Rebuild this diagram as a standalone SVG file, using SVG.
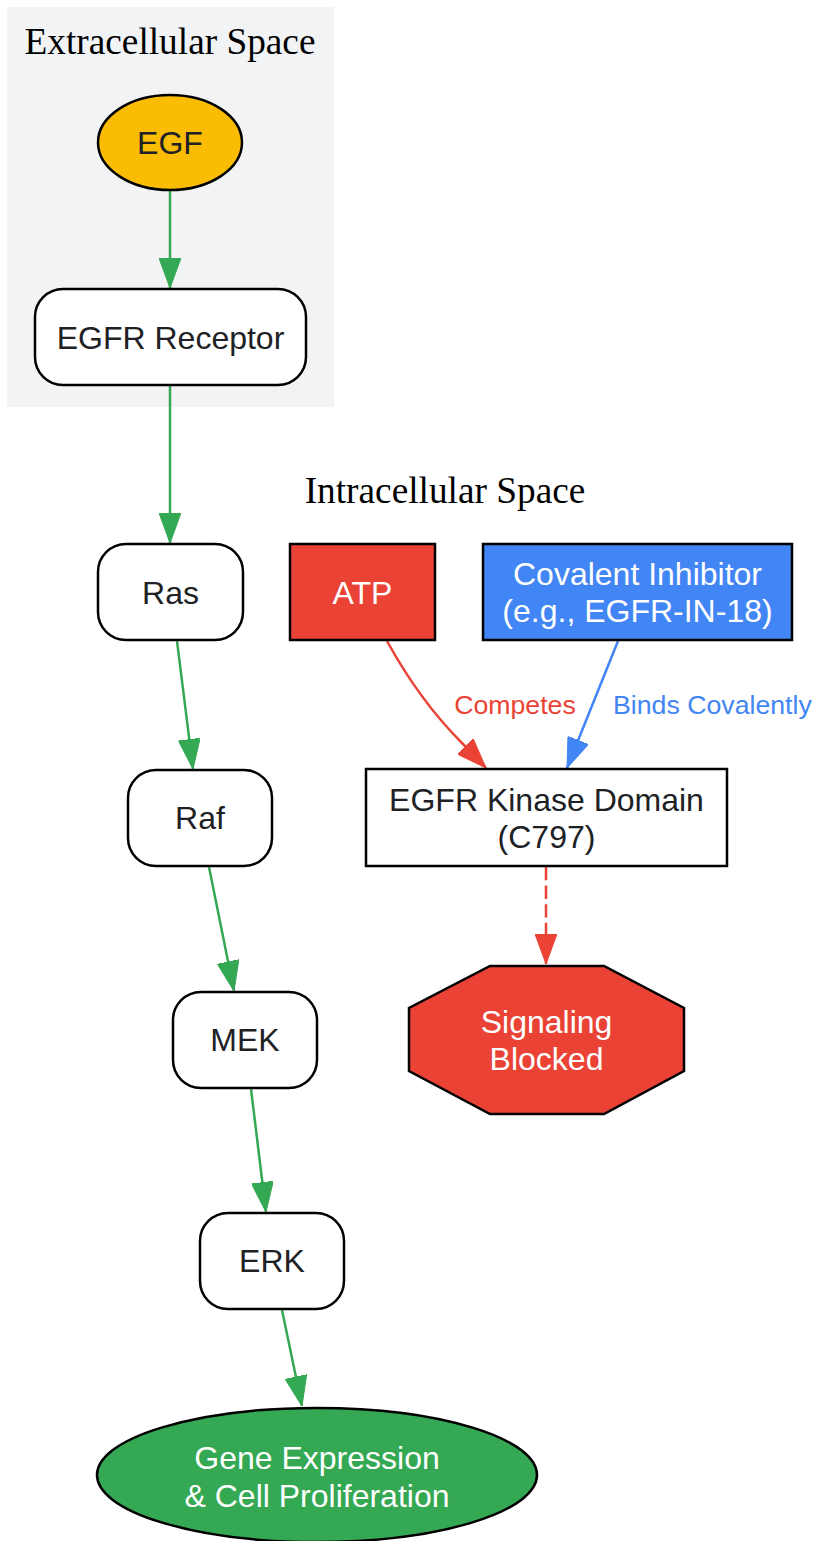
<svg xmlns="http://www.w3.org/2000/svg" width="813" height="1541" viewBox="0 0 813 1541">
<style>
.node{stroke:#000;stroke-width:2.5}
.lbl{font-family:"Liberation Sans",Arial,sans-serif;font-size:32px;text-anchor:middle;fill:#202124}
.wlbl{font-family:"Liberation Sans",Arial,sans-serif;font-size:32px;text-anchor:middle;fill:#ffffff}
.title{font-family:"Liberation Serif","Times New Roman",serif;font-size:37.3px;text-anchor:middle;fill:#000}
.elbl{font-family:"Liberation Sans",Arial,sans-serif;font-size:26.7px}
.g{stroke:#34a853;stroke-width:2.5;fill:none}
.r{stroke:#ea4335;stroke-width:2.5;fill:none}
.b{stroke:#4285f4;stroke-width:2.5;fill:none}
</style>
<defs>
<marker id="ag" markerUnits="userSpaceOnUse" viewBox="0 0 30 22" refX="30" refY="11" markerWidth="30" markerHeight="22" orient="auto"><path d="M0,0 L30,11 L0,22 Z" fill="#34a853" stroke="#34a853" stroke-width="1"/></marker>
<marker id="ar" markerUnits="userSpaceOnUse" viewBox="0 0 30 22" refX="30" refY="11" markerWidth="30" markerHeight="22" orient="auto"><path d="M0,0 L30,11 L0,22 Z" fill="#ea4335" stroke="#ea4335" stroke-width="1"/></marker>
<marker id="ab" markerUnits="userSpaceOnUse" viewBox="0 0 30 22" refX="30" refY="11" markerWidth="30" markerHeight="22" orient="auto"><path d="M0,0 L30,11 L0,22 Z" fill="#4285f4" stroke="#4285f4" stroke-width="1"/></marker>
</defs>
<rect width="813" height="1541" fill="#ffffff"/>
<g id="cluster_extra">
<rect x="7" y="7" width="327" height="400" fill="#f1f3f4"/>
<text class="title" x="170" y="54">Extracellular Space</text>
</g>
<g id="cluster_intra">
<text class="title" x="445" y="503">Intracellular Space</text>
</g>
<g id="connectors">
<path class="g" d="M170,190 L170,288" marker-end="url(#ag)"/>
<path class="g" d="M170,386 L170,543" marker-end="url(#ag)"/>
<path class="g" d="M177,641 L193,769" marker-end="url(#ag)"/>
<path class="g" d="M209,867 L234,991" marker-end="url(#ag)"/>
<path class="g" d="M251,1089 L266,1212" marker-end="url(#ag)"/>
<path class="g" d="M282,1310 L302,1406" marker-end="url(#ag)"/>
<path class="r" d="M387,641 C404,672 427,708 462,743 L486,768" marker-end="url(#ar)"/>
<text class="elbl" x="515" y="714" fill="#ea4335" text-anchor="middle">Competes</text>
<path class="b" d="M618,641 L567,768" marker-end="url(#ab)"/>
<text class="elbl" x="613" y="714" fill="#4285f4">Binds Covalently</text>
<path class="r" d="M546,867 L546,964" stroke-dasharray="13.3,5.3" marker-end="url(#ar)"/>
</g>
<g id="EGF">
<ellipse class="node" cx="170" cy="142.5" rx="72" ry="47.5" fill="#fbbc04"/>
<text class="lbl" x="170" y="154">EGF</text>
</g>
<g id="EGFR">
<rect class="node" x="35" y="289" width="271" height="96" rx="28" fill="#ffffff"/>
<text class="lbl" x="170.5" y="349">EGFR Receptor</text>
</g>
<g id="Ras">
<rect class="node" x="98" y="544" width="145" height="96" rx="28" fill="#ffffff"/>
<text class="lbl" x="170.5" y="604">Ras</text>
</g>
<g id="Raf">
<rect class="node" x="128" y="770" width="144" height="96" rx="28" fill="#ffffff"/>
<text class="lbl" x="200" y="829">Raf</text>
</g>
<g id="MEK">
<rect class="node" x="173" y="992" width="144" height="96" rx="28" fill="#ffffff"/>
<text class="lbl" x="245" y="1051">MEK</text>
</g>
<g id="ERK">
<rect class="node" x="200" y="1213" width="144" height="96" rx="28" fill="#ffffff"/>
<text class="lbl" x="272" y="1272">ERK</text>
</g>
<g id="Gene">
<ellipse class="node" cx="317" cy="1475" rx="220" ry="67" fill="#34a853"/>
<text class="wlbl" x="317" y="1469">Gene Expression</text>
<text class="wlbl" x="317" y="1507">&amp; Cell Proliferation</text>
</g>
<g id="ATP">
<rect class="node" x="290" y="544" width="145" height="96" fill="#ea4335"/>
<text class="wlbl" x="362.5" y="604">ATP</text>
</g>
<g id="Inhibitor">
<rect class="node" x="483" y="544" width="309" height="96" fill="#4285f4"/>
<text class="wlbl" x="637.5" y="585">Covalent Inhibitor</text>
<text class="wlbl" x="637.5" y="622">(e.g., EGFR-IN-18)</text>
</g>
<g id="Kinase">
<rect class="node" x="366" y="769" width="361" height="97" fill="#ffffff"/>
<text class="lbl" x="546.5" y="811">EGFR Kinase Domain</text>
<text class="lbl" x="546.5" y="848">(C797)</text>
</g>
<g id="Blocked">
<polygon class="node" points="490,966 604,966 684,1008 684,1071 604,1114 490,1114 409,1071 409,1008" fill="#ea4335"/>
<text class="wlbl" x="546.5" y="1033">Signaling</text>
<text class="wlbl" x="546.5" y="1070">Blocked</text>
</g>
</svg>
